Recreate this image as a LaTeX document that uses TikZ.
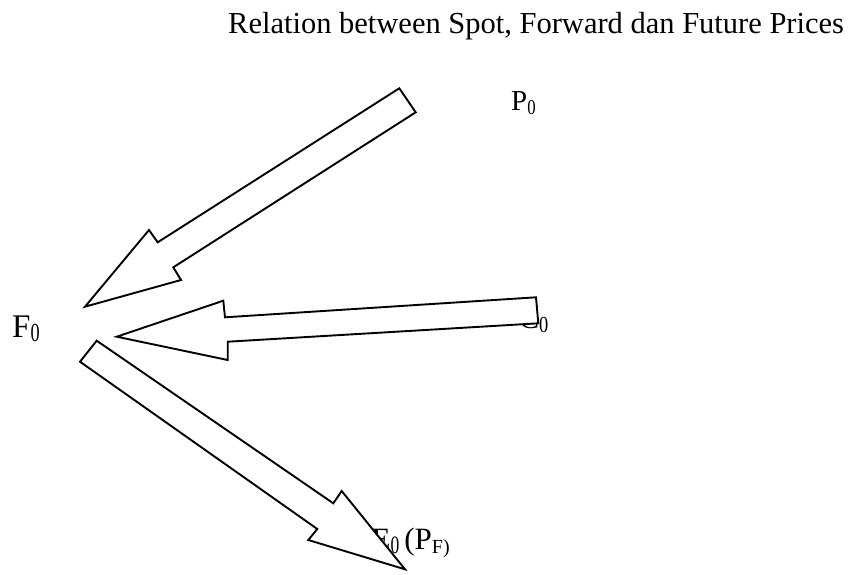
\documentclass[tikz,border=0pt]{standalone}
\usepackage{fontspec}
\setmainfont{Liberation Serif}
\tikzset{
  lbl/.style={inner sep=0pt, anchor=base west},
  blockarrow/.style={draw=black, fill=white, line width=1.9pt, line join=miter}
}
\newcommand{\fs}[1]{\fontsize{#1}{#1}\selectfont}
\begin{document}
\begin{tikzpicture}[x=1pt,y=-1pt]
\useasboundingbox (0,0) rectangle (851,574);
% labels
\node[lbl] (title) at (228,33.5) {\fs{30.5}Relation between Spot, Forward dan Future Prices};
\node[lbl] (P0) at (511,110) {\fs{29}P\raisebox{-4.4pt}{\scalebox{0.8}[1]{\fs{21}0}}};
\node[lbl] (F0) at (12,337.3) {\fs{33}F\raisebox{-4.4pt}{\scalebox{0.7}[1]{\fs{26}0}}};
\node[lbl] (C0) at (519,328) {\fs{30}C\raisebox{-4.7pt}{\scalebox{0.8}[1]{\fs{23}0}}};
\node[lbl] (E0) at (371.5,549.3) {\fs{31}E\raisebox{-4pt}{\scalebox{0.7}[1]{\fs{25}0}}\kern5pt(P\raisebox{-4pt}{\fs{20}F)}};
% arrow from P0 to F0
\coordinate (a1) at (399.3,88.3);
\coordinate (a2) at (157.7,242.3);
\coordinate (a3) at (149,230);
\coordinate (a4) at (85,306.7);
\coordinate (a5) at (181,280);
\coordinate (a6) at (173.3,267.3);
\coordinate (a7) at (415.7,112.3);
\draw[blockarrow] (a1) -- (a2) -- (a3) -- (a4) -- (a5) -- (a6) -- (a7) -- cycle;
% arrow from C0 to F0
\coordinate (b1) at (536,297.3);
\coordinate (b2) at (225,317.3);
\coordinate (b3) at (223.3,300.7);
\coordinate (b4) at (116.7,336.7);
\coordinate (b5) at (227.7,360);
\coordinate (b6) at (227.7,341.7);
\coordinate (b7) at (538.3,323.3);
\draw[blockarrow] (b1) -- (b2) -- (b3) -- (b4) -- (b5) -- (b6) -- (b7) -- cycle;
% arrow from F0 to E0
\coordinate (c1) at (96.7,340.7);
\coordinate (c2) at (333.3,503.3);
\coordinate (c3) at (341.7,491);
\coordinate (c4) at (405,569.3);
\coordinate (c5) at (308.3,540);
\coordinate (c6) at (317.3,529);
\coordinate (c7) at (80,361.7);
\draw[blockarrow] (c1) -- (c2) -- (c3) -- (c4) -- (c5) -- (c6) -- (c7) -- cycle;
\end{tikzpicture}
\end{document}
